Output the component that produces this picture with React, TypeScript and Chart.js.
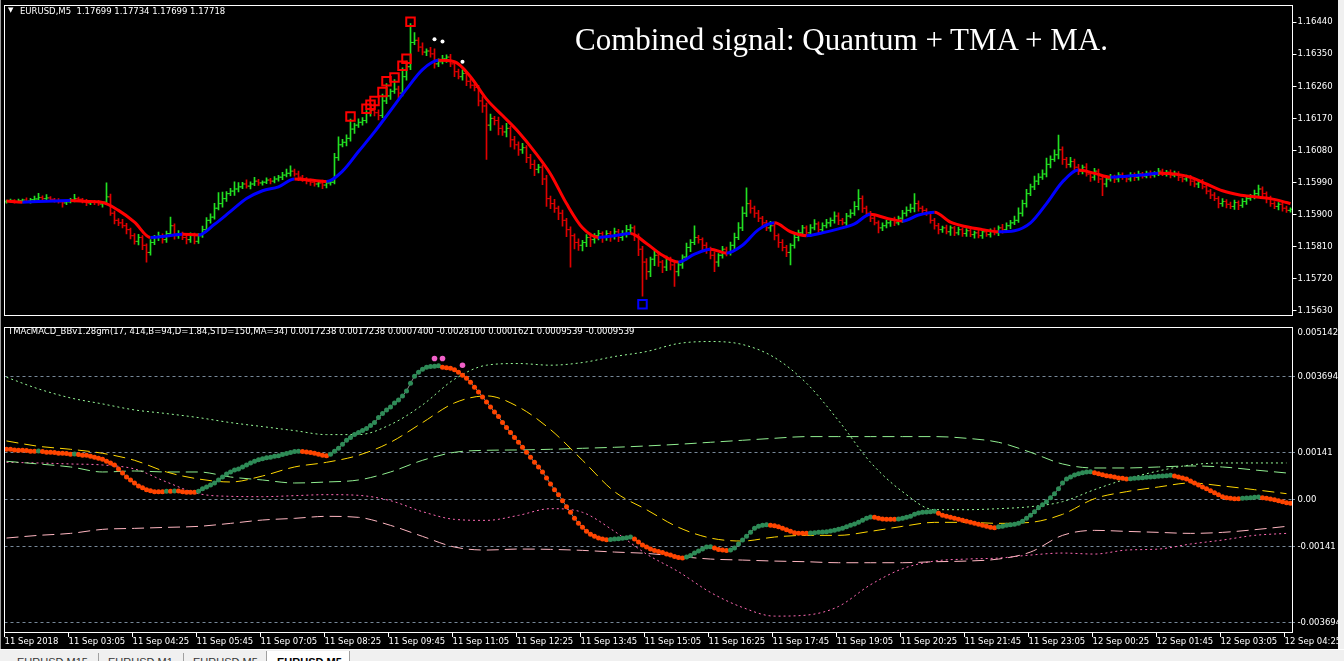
import React, { useEffect, useRef } from 'react';
import { Chart, registerables } from 'chart.js';

Chart.register(...registerables);

// ---------------- DATA ----------------
// EURUSD M5 closes, one per bar (bar 0 = 11 Sep 01:45)
const firstOpen = 1.15936;
const closes = [
  1.15938,1.15940,1.15937,1.15939,1.15941,1.15938,1.15942,1.15944,1.15948,1.15945,1.15947,1.15943,1.15940,1.15936,1.15933,1.15936,1.15940,1.15945,1.15943,1.15938,
  1.15933,1.15936,1.15934,1.15930,1.15935,1.15950,1.15904,1.15884,1.15877,1.15869,1.15858,1.15841,1.15825,1.15836,1.15814,1.15794,1.15822,1.15836,1.15841,1.15830,
  1.15847,1.15869,1.15841,1.15847,1.15836,1.15830,1.15844,1.15825,1.15841,1.15858,1.15884,1.15893,1.15918,1.15931,1.15945,1.15959,1.15966,1.15972,1.15978,1.15986,
  1.15980,1.15986,1.15994,1.15989,1.15991,1.15997,1.15994,1.16000,1.16005,1.16011,1.16016,1.16022,1.16014,1.16005,1.16000,1.15994,1.15991,1.15986,1.15989,1.15983,
  1.15989,1.15991,1.16060,1.16096,1.16103,1.16114,1.16140,1.16151,1.16159,1.16164,1.16186,1.16192,1.16186,1.16178,1.16219,1.16233,1.16246,1.16252,1.16241,1.16287,
  1.16315,1.16383,1.16389,1.16370,1.16356,1.16359,1.16351,1.16323,1.16329,1.16337,1.16342,1.16323,1.16301,1.16287,1.16296,1.16274,1.16263,1.16257,1.16219,1.16205,
  1.16151,1.16170,1.16164,1.16142,1.16132,1.16142,1.16110,1.16096,1.16082,1.16088,1.16060,1.16041,1.16027,1.16033,1.16000,1.15945,1.15931,1.15918,1.15904,1.15884,
  1.15858,1.15841,1.15822,1.15814,1.15822,1.15836,1.15830,1.15841,1.15847,1.15836,1.15847,1.15841,1.15852,1.15836,1.15847,1.15858,1.15863,1.15841,1.15803,1.15767,
  1.15740,1.15775,1.15786,1.15767,1.15753,1.15775,1.15759,1.15740,1.15759,1.15781,1.15808,1.15822,1.15836,1.15830,1.15814,1.15803,1.15786,1.15767,1.15786,1.15803,
  1.15794,1.15814,1.15836,1.15863,1.15904,1.15931,1.15918,1.15904,1.15890,1.15877,1.15863,1.15869,1.15841,1.15822,1.15808,1.15794,1.15814,1.15836,1.15849,1.15863,
  1.15849,1.15863,1.15874,1.15858,1.15869,1.15877,1.15884,1.15896,1.15884,1.15877,1.15896,1.15904,1.15923,1.15945,1.15918,1.15904,1.15890,1.15877,1.15863,1.15869,
  1.15877,1.15884,1.15877,1.15890,1.15904,1.15912,1.15918,1.15931,1.15918,1.15912,1.15904,1.15884,1.15869,1.15858,1.15863,1.15852,1.15863,1.15849,1.15858,1.15847,
  1.15855,1.15844,1.15849,1.15841,1.15852,1.15844,1.15855,1.15849,1.15863,1.15858,1.15869,1.15877,1.15884,1.15904,1.15931,1.15959,1.15978,1.15994,1.16005,1.16014,
  1.16041,1.16055,1.16068,1.16082,1.16055,1.16041,1.16049,1.16033,1.16022,1.16033,1.16014,1.16005,1.16022,1.16000,1.15986,1.16000,1.16005,1.16000,1.16011,1.16005,
  1.16000,1.16011,1.16005,1.16014,1.16008,1.16016,1.16011,1.16016,1.16022,1.16014,1.16019,1.16011,1.16016,1.16005,1.16000,1.16005,1.15994,1.15986,1.15991,1.15978,
  1.15966,1.15955,1.15945,1.15931,1.15937,1.15929,1.15923,1.15934,1.15926,1.15937,1.15945,1.15950,1.15959,1.15972,1.15959,1.15945,1.15931,1.15923,1.15929,1.15918,1.15912,1.15915,
];
// upper wick above the body, in points (0.00001)
const hiPts = [
  3,4,2,5,3,6,4,8,12,5,9,4,3,5,2,4,6,12,4,3,
  5,3,4,6,2,39,8,6,5,10,7,4,6,9,5,4,8,6,10,5,
  7,24,5,8,4,6,5,4,6,10,8,9,14,31,18,6,8,20,12,5,
  12,6,11,5,4,6,5,7,5,8,12,15,6,8,5,4,6,5,6,8,
  6,5,12,22,8,10,28,6,10,8,6,10,21,8,19,35,6,27,9,25,
  16,53,22,8,12,6,10,14,8,10,6,8,5,7,10,6,8,4,6,12,
  8,12,6,10,8,14,6,10,8,12,6,9,12,8,6,10,7,12,6,9,
  6,8,5,10,6,8,12,6,9,5,8,6,10,7,8,12,9,6,5,8,
  10,6,12,7,5,9,6,8,10,6,12,8,33,6,5,8,6,10,5,8,
  6,9,12,15,18,44,10,6,8,5,7,12,6,5,8,6,5,10,8,7,
  6,9,12,6,8,10,7,12,9,6,8,10,14,25,8,6,5,7,6,8,
  7,5,9,6,8,10,12,28,8,6,5,4,6,7,5,8,6,4,7,5,
  6,4,5,7,4,6,5,8,6,10,8,7,12,15,10,12,8,14,10,12,
  18,10,14,41,8,6,12,7,8,6,10,5,8,6,7,5,8,6,7,6,
  5,7,6,8,5,6,7,5,8,6,5,7,6,5,8,6,5,7,6,8,
  6,5,7,6,8,5,6,7,5,8,9,7,10,11,6,5,7,6,5,8,6,4,
];
// lower wick below the body, in points
const loPts = [
  4,3,5,2,4,3,6,3,4,5,3,6,5,4,12,5,3,4,6,5,
  8,5,6,4,9,5,6,10,8,6,12,9,8,10,12,27,8,6,9,10,
  8,6,10,8,6,12,8,7,6,5,4,8,6,5,10,8,6,12,8,5,
  6,8,5,7,6,4,8,5,6,7,5,8,6,10,7,8,9,6,8,10,
  8,6,5,8,6,10,8,12,6,8,7,10,9,12,6,8,10,6,14,8,
  10,8,6,12,8,10,9,12,8,6,10,8,14,6,10,12,8,10,14,18,
  96,15,12,18,10,14,20,12,16,10,14,12,18,10,16,22,14,12,18,16,
  20,88,18,14,16,12,20,10,12,14,8,16,10,12,8,10,12,14,18,96,
  22,14,18,12,16,10,14,41,12,10,8,12,6,10,14,12,10,27,12,8,
  10,8,12,6,8,10,14,12,10,12,8,10,12,14,10,12,35,8,10,6,
  8,10,6,12,8,6,10,8,12,6,8,5,6,10,12,8,10,6,14,8,
  6,10,8,6,12,8,6,10,8,12,6,8,10,12,8,6,10,8,6,8,
  8,6,10,6,8,5,7,6,8,10,6,8,5,6,8,10,6,8,10,6,
  8,10,6,12,14,10,8,12,10,8,6,12,8,10,33,8,6,10,8,6,
  8,6,10,8,6,5,8,6,7,5,6,8,5,10,8,6,12,8,10,6,
  8,10,6,12,8,10,6,8,12,6,8,5,6,8,10,12,8,6,10,8,6,5,
];
// TMA / MA line (red falling, blue rising)
const maBars = [0,4,8,12,16,20,24,28,32,36,40,44,48,52,56,60,64,68,72,76,80,84,88,92,96,100,104,108,112,116,120,124,128,132,136,140,144,148,152,156,160,164,168,172,176,180,184,188,192,196,200,204,208,212,216,220,224,228,232,236,240,244,248,252,256,260,264,268,272,276,280,284,288,292,296,300,304,308,312,316,320,321];
const maValues = [
  1.15938,1.15935,1.15937,1.15938,1.15940,1.15937,1.15934,1.15912,1.15879,1.15836,1.15840,1.15845,1.15843,1.15873,1.15909,1.15945,1.15967,1.15978,1.16000,1.15997,
  1.15993,1.16022,1.16077,1.16132,1.16192,1.16252,1.16307,1.16333,1.16329,1.16287,1.16224,1.16178,1.16132,1.16077,1.16014,1.15931,1.15863,1.15836,1.15841,1.15847,
  1.15819,1.15786,1.15767,1.15789,1.15803,1.15792,1.15814,1.15858,1.15877,1.15852,1.15841,1.15849,1.15860,1.15874,1.15901,1.15890,1.15882,1.15899,1.15907,1.15879,
  1.15866,1.15858,1.15852,1.15855,1.15877,1.15931,1.15992,1.16025,1.16016,1.16005,1.16008,1.16011,1.16016,1.16014,1.16005,1.15986,1.15967,1.15956,1.15950,1.15945,
  1.15934,1.15931,
];
// Quantum sell squares, buy square, white dots
const sellBars = [86,90,91,92,94,95,97,99,100,101];
const sellPrices = [1.16175,1.16197,1.16208,1.16219,1.16244,1.16274,1.16285,1.16318,1.16337,1.16441];
const buyBars = [159];
const buyPrices = [1.15649];
const dotBars = [107,109,114];
const dotPrices = [1.16392,1.16386,1.16329];

// TMAcMACD main line, one per bar
const macd = [
  0.00151,0.00151,0.00149,0.00148,0.00148,0.00147,0.00145,0.00145,0.00146,0.00144,0.00142,0.00142,0.00141,0.00139,0.00139,0.00138,0.00136,0.00137,0.00135,0.00133,
  0.00133,0.00130,0.00127,0.00124,0.00121,0.00115,0.00110,0.00104,0.00092,0.00080,0.00068,0.00059,0.00050,0.00041,0.00036,0.00030,0.00027,0.00024,0.00024,0.00024,
  0.00025,0.00025,0.00026,0.00026,0.00024,0.00022,0.00022,0.00022,0.00025,0.00033,0.00038,0.00044,0.00050,0.00059,0.00068,0.00077,0.00083,0.00089,0.00092,0.00098,
  0.00104,0.00110,0.00115,0.00120,0.00123,0.00126,0.00127,0.00130,0.00132,0.00135,0.00138,0.00141,0.00144,0.00145,0.00144,0.00143,0.00141,0.00139,0.00136,0.00133,
  0.00132,0.00136,0.00145,0.00154,0.00166,0.00178,0.00186,0.00195,0.00201,0.00207,0.00213,0.00222,0.00231,0.00246,0.00258,0.00269,0.00278,0.00290,0.00299,0.00311,
  0.00326,0.00349,0.00370,0.00382,0.00391,0.00397,0.00399,0.00400,0.00401,0.00397,0.00395,0.00394,0.00389,0.00382,0.00373,0.00364,0.00352,0.00337,0.00323,0.00308,
  0.00293,0.00278,0.00263,0.00249,0.00231,0.00216,0.00201,0.00186,0.00172,0.00157,0.00142,0.00127,0.00112,0.00098,0.00083,0.00065,0.00047,0.00030,0.00015,-0.00003,
  -0.00021,-0.00038,-0.00056,-0.00071,-0.00083,-0.00095,-0.00104,-0.00110,-0.00115,-0.00118,-0.00120,-0.00119,-0.00118,-0.00117,-0.00116,-0.00114,-0.00112,-0.00118,-0.00127,-0.00136,
  -0.00142,-0.00148,-0.00152,-0.00155,-0.00158,-0.00163,-0.00166,-0.00170,-0.00173,-0.00175,-0.00172,-0.00167,-0.00160,-0.00154,-0.00148,-0.00142,-0.00141,-0.00145,-0.00149,-0.00151,
  -0.00152,-0.00151,-0.00145,-0.00133,-0.00121,-0.00110,-0.00098,-0.00086,-0.00080,-0.00077,-0.00075,-0.00077,-0.00078,-0.00081,-0.00086,-0.00090,-0.00095,-0.00099,-0.00101,-0.00101,
  -0.00101,-0.00100,-0.00099,-0.00098,-0.00097,-0.00096,-0.00094,-0.00092,-0.00089,-0.00086,-0.00081,-0.00077,-0.00073,-0.00068,-0.00062,-0.00056,-0.00052,-0.00053,-0.00056,-0.00058,
  -0.00059,-0.00059,-0.00059,-0.00058,-0.00056,-0.00053,-0.00050,-0.00044,-0.00040,-0.00038,-0.00037,-0.00036,-0.00035,-0.00041,-0.00047,-0.00050,-0.00053,-0.00056,-0.00059,-0.00062,
  -0.00065,-0.00068,-0.00071,-0.00074,-0.00077,-0.00080,-0.00083,-0.00084,-0.00081,-0.00080,-0.00077,-0.00075,-0.00074,-0.00071,-0.00065,-0.00056,-0.00047,-0.00036,-0.00024,-0.00015,
  -0.00006,0.00006,0.00018,0.00033,0.00050,0.00062,0.00068,0.00074,0.00078,0.00081,0.00083,0.00084,0.00081,0.00078,0.00075,0.00072,0.00070,0.00068,0.00065,0.00064,
  0.00062,0.00063,0.00064,0.00065,0.00066,0.00067,0.00068,0.00069,0.00070,0.00071,0.00072,0.00073,0.00071,0.00068,0.00065,0.00062,0.00056,0.00050,0.00044,0.00038,
  0.00033,0.00027,0.00021,0.00015,0.00009,0.00006,0.00004,0.00003,0.00003,0.00004,0.00005,0.00006,0.00007,0.00008,0.00006,0.00004,0.00002,0.00000,-0.00003,-0.00006,-0.00009,-0.00011,
];
// indicator lines sampled every 8 bars
const lineBars = [0,8,16,24,32,40,48,56,64,72,80,88,96,104,112,120,128,136,144,152,160,168,176,184,192,200,208,216,224,232,240,248,256,264,272,280,288,296,304,312,320];
const signalLine = [0.00176,0.00160,0.00151,0.00139,0.00118,0.00083,0.00062,0.00053,0.00071,0.00098,0.00112,0.00133,0.00172,0.00231,0.00290,0.00311,0.00278,0.00210,0.00118,0.00024,-0.00030,-0.00083,-0.00115,-0.00124,-0.00112,-0.00107,-0.00107,-0.00095,-0.00080,-0.00068,-0.00068,-0.00071,-0.00068,-0.00044,0.00003,0.00024,0.00038,0.00050,0.00041,0.00030,0.00018];
const midUpper = [0.00115,0.00107,0.00098,0.00083,0.00086,0.00083,0.00083,0.00068,0.00059,0.00050,0.00053,0.00059,0.00083,0.00118,0.00142,0.00148,0.00149,0.00151,0.00154,0.00157,0.00161,0.00166,0.00172,0.00178,0.00184,0.00189,0.00189,0.00189,0.00189,0.00189,0.00184,0.00172,0.00142,0.00107,0.00095,0.00095,0.00098,0.00101,0.00098,0.00089,0.00080];
const bandUpper = [0.00367,0.00332,0.00305,0.00287,0.00269,0.00258,0.00246,0.00231,0.00219,0.00207,0.00195,0.00195,0.00225,0.00284,0.00361,0.00403,0.00408,0.00403,0.00411,0.00429,0.00444,0.00468,0.00474,0.00465,0.00426,0.00349,0.00237,0.00112,0.00024,-0.00030,-0.00030,-0.00027,-0.00021,-0.00006,0.00030,0.00062,0.00086,0.00104,0.00110,0.00110,0.00110];
const bandLower = [0.00112,0.00110,0.00107,0.00104,0.00092,0.00053,0.00018,0.00010,0.00009,0.00012,0.00015,0.00013,-0.00003,-0.00036,-0.00059,-0.00062,-0.00047,-0.00027,-0.00038,-0.00095,-0.00163,-0.00216,-0.00278,-0.00323,-0.00349,-0.00346,-0.00320,-0.00255,-0.00207,-0.00184,-0.00178,-0.00175,-0.00166,-0.00160,-0.00163,-0.00151,-0.00148,-0.00133,-0.00121,-0.00107,-0.00101];
const midLower = [-0.00115,-0.00107,-0.00101,-0.00089,-0.00086,-0.00083,-0.00080,-0.00071,-0.00061,-0.00056,-0.00050,-0.00053,-0.00077,-0.00110,-0.00142,-0.00151,-0.00148,-0.00149,-0.00152,-0.00157,-0.00161,-0.00170,-0.00178,-0.00181,-0.00184,-0.00186,-0.00189,-0.00189,-0.00189,-0.00186,-0.00184,-0.00178,-0.00157,-0.00107,-0.00092,-0.00095,-0.00098,-0.00101,-0.00098,-0.00090,-0.00080];
const alertBars = [107,109,114];
const alertValues = [0.00423,0.00423,0.00403];

// axes
const priceTicks = [1.15630,1.15720,1.15810,1.15900,1.15990,1.16080,1.16170,1.16260,1.16350,1.16440];
const levelTicks = [0.005142,0.0036942,0.00141,0,-0.00141,-0.0036942];
const levelLabels = ['0.005142','0.0036942','0.00141','0.00','-0.00141','-0.003694'];
const timeTickBars = [0,16,32,48,64,80,96,112,128,144,160,176,192,208,224,240,256,272,288,304,320];
const timeLabels = ['11 Sep 2018','11 Sep 03:05','11 Sep 04:25','11 Sep 05:45','11 Sep 07:05','11 Sep 08:25','11 Sep 09:45','11 Sep 11:05','11 Sep 12:25','11 Sep 13:45','11 Sep 15:05','11 Sep 16:25','11 Sep 17:45','11 Sep 19:05','11 Sep 20:25','11 Sep 21:45','11 Sep 23:05','12 Sep 00:25','12 Sep 01:45','12 Sep 03:05','12 Sep 04:25'];

// ---------------- STYLE ----------------
const POINT = 0.00001;
const FONT = { family: "'DejaVu Sans', sans-serif", size: 8.5 };
const BULL = '#22e022';
const BEAR = '#e00000';
const X_MIN = -0.5;
const X_MAX = 321.5;
const AXIS_W = 51.5;

const framePlugin = {
  id: 'frame',
  afterDraw(chart: any) {
    const { ctx, chartArea: a } = chart;
    const l = Math.floor(a.left);
    const r = Math.floor(a.right);
    const t = Math.floor(a.top) - 1;
    const b = Math.floor(a.bottom);
    ctx.save();
    ctx.fillStyle = '#ffffff';
    ctx.fillRect(l, t, r - l + 1, 1);
    ctx.fillRect(l, b, r - l + 1, 1);
    ctx.fillRect(l, t, 1, b - t + 1);
    ctx.fillRect(r, t, 1, b - t + 1);
    ctx.restore();
  },
};

function buildTop(canvas: HTMLCanvasElement) {
  const opens = closes.map((c, i) => (i === 0 ? firstOpen : closes[i - 1]));
  const highs = closes.map((c, i) => Math.max(opens[i], c) + hiPts[i] * POINT);
  const lows = closes.map((c, i) => Math.min(opens[i], c) - loPts[i] * POINT);
  const barColors = closes.map((c, i) => (c >= opens[i] ? BULL : BEAR));

  return new Chart(canvas, {
    type: 'bar',
    data: {
      datasets: [
        {
          type: 'scatter',
          data: dotBars.map((b, k) => ({ x: b, y: dotPrices[k] })),
          pointStyle: 'circle',
          pointRadius: 2,
          pointBackgroundColor: '#ffffff',
          pointBorderWidth: 0,
          order: 0,
        } as any,
        {
          type: 'scatter',
          data: sellBars.map((b, k) => ({ x: b, y: sellPrices[k] })),
          pointStyle: 'rect',
          pointRadius: 6,
          pointBackgroundColor: 'rgba(0,0,0,0)',
          pointBorderColor: '#ff0000',
          pointBorderWidth: 2,
          order: 1,
        },
        {
          type: 'scatter',
          data: buyBars.map((b, k) => ({ x: b, y: buyPrices[k] })),
          pointStyle: 'rect',
          pointRadius: 6,
          pointBackgroundColor: 'rgba(0,0,0,0)',
          pointBorderColor: '#0000ff',
          pointBorderWidth: 2,
          order: 1,
        },
        {
          type: 'line',
          data: maBars.map((b, k) => ({ x: b, y: maValues[k] })),
          borderColor: '#0000ff',
          borderWidth: 3,
          pointRadius: 0,
          cubicInterpolationMode: 'monotone',
          segment: {
            borderColor: (ctx: any) => (ctx.p1.parsed.y < ctx.p0.parsed.y ? '#ff0000' : '#0000ff'),
          },
          order: 2,
        },
        {
          type: 'scatter',
          data: opens.map((o, i) => ({ x: i - 0.3, y: o })),
          pointStyle: 'line',
          pointRadius: 1.2,
          pointBorderColor: barColors,
          pointBorderWidth: 1,
          order: 3,
        },
        {
          type: 'scatter',
          data: closes.map((c, i) => ({ x: i + 0.3, y: c })),
          pointStyle: 'line',
          pointRadius: 1.2,
          pointBorderColor: barColors,
          pointBorderWidth: 1,
          order: 3,
        },
        {
          type: 'bar',
          data: closes.map((c, i) => ({ x: i, y: [lows[i], highs[i]] })),
          backgroundColor: barColors,
          borderWidth: 0,
          barThickness: 1,
          grouped: false,
          order: 4,
        },
      ] as any,
    },
    options: {
      responsive: false,
      animation: false,
      devicePixelRatio: 1,
      events: [],
      layout: { autoPadding: false, padding: { left: 4.5, top: 3, bottom: 2, right: 0 } },
      plugins: { legend: { display: false }, tooltip: { enabled: false } },
      scales: {
        x: { type: 'linear', display: false, min: X_MIN, max: X_MAX, offset: false },
        y: {
          type: 'linear',
          position: 'right',
          min: 1.15616,
          max: 1.16485,
          afterFit: (s: any) => { s.width = AXIS_W; },
          afterBuildTicks: (s: any) => { s.ticks = priceTicks.map((v) => ({ value: v })); },
          ticks: {
            color: '#ffffff',
            font: FONT,
            padding: 1,
            callback: (v: any) => Number(v).toFixed(5),
          },
          grid: { drawOnChartArea: false, drawTicks: true, tickLength: 4, tickColor: '#ffffff' },
          border: { display: false },
        },
      },
    } as any,
    plugins: [framePlugin],
  });
}

function buildBottom(canvas: HTMLCanvasElement) {
  const dotColors = macd.map((v, i) => (i > 0 && v > macd[i - 1] ? '#2e8b57' : '#ff4500'));
  const sparse = (vals: number[]) => lineBars.map((b, k) => ({ x: b, y: vals[k] }));
  const common = { pointRadius: 0, borderWidth: 1, cubicInterpolationMode: 'monotone' };
  return new Chart(canvas, {
    type: 'line',
    data: {
      datasets: [
        {
          type: 'scatter',
          data: alertBars.map((b, k) => ({ x: b, y: alertValues[k] })),
          pointRadius: 2.8,
          pointBackgroundColor: '#f060c8',
          pointBorderWidth: 0,
          order: 0,
        },
        {
          data: macd.map((v, i) => ({ x: i, y: v })),
          borderColor: '#8a8a8a',
          borderWidth: 1,
          pointStyle: 'circle',
          pointRadius: 2.5,
          pointBorderWidth: 0,
          pointBackgroundColor: dotColors,
          order: 1,
        },
        { ...common, data: sparse(signalLine), borderColor: '#ffd700', borderDash: [12, 6], order: 2 },
        { ...common, data: sparse(midUpper), borderColor: '#90ee90', borderDash: [12, 6], order: 3 },
        { ...common, data: sparse(midLower), borderColor: '#ffb6c1', borderDash: [12, 6], order: 4 },
        { ...common, data: sparse(bandUpper), borderColor: '#98fb98', borderDash: [2, 3], order: 5 },
        { ...common, data: sparse(bandLower), borderColor: '#ff69b4', borderDash: [2, 3], order: 6 },
      ] as any,
    },
    options: {
      responsive: false,
      animation: false,
      devicePixelRatio: 1,
      events: [],
      layout: { autoPadding: false, padding: { left: 4.5, top: 2, bottom: 0, right: 0 } },
      plugins: { legend: { display: false }, tooltip: { enabled: false } },
      scales: {
        x: {
          type: 'linear',
          min: X_MIN,
          max: X_MAX,
          offset: false,
          afterFit: (s: any) => { s.height = 18; },
          afterBuildTicks: (s: any) => { s.ticks = timeTickBars.map((b) => ({ value: b - 0.5 })); },
          ticks: {
            color: '#ffffff',
            font: FONT,
            align: 'start',
            padding: 0,
            maxRotation: 0,
            minRotation: 0,
            autoSkip: false,
            callback: (_v: any, i: number) => timeLabels[i],
          },
          grid: { drawOnChartArea: false, drawTicks: true, tickLength: 5, tickColor: '#ffffff' },
          border: { display: false },
        },
        y: {
          type: 'linear',
          position: 'right',
          min: -0.003966,
          max: 0.005142,
          afterFit: (s: any) => { s.width = AXIS_W; },
          afterBuildTicks: (s: any) => { s.ticks = levelTicks.map((v) => ({ value: v })); },
          ticks: {
            color: '#ffffff',
            font: FONT,
            padding: 1,
            callback: (_v: any, i: number) => (i === 0 ? ['', levelLabels[i]] : levelLabels[i]),
          },
          grid: {
            drawOnChartArea: true,
            drawTicks: true,
            tickLength: 4,
            color: (ctx: any) => (ctx.index === 0 ? 'rgba(0,0,0,0)' : '#778899'),
            tickColor: (ctx: any) => (ctx.index === 0 ? 'rgba(0,0,0,0)' : '#778899'),
            tickBorderDash: [2, 2],
          },
          border: { display: false, dash: [3, 3] },
        },
      },
    } as any,
    plugins: [framePlugin],
  });
}

const smallText: React.CSSProperties = {
  position: 'absolute',
  fontFamily: "'DejaVu Sans', sans-serif",
  fontSize: '8.5px',
  lineHeight: '11px',
  color: '#ffffff',
  whiteSpace: 'pre',
};

const tabText: React.CSSProperties = {
  position: 'absolute',
  top: 6,
  fontFamily: "'Liberation Sans', Arial, sans-serif",
  fontSize: '11px',
  lineHeight: '13px',
  color: '#333',
  whiteSpace: 'pre',
};

export default function App() {
  const topRef = useRef<HTMLCanvasElement>(null);
  const botRef = useRef<HTMLCanvasElement>(null);

  useEffect(() => {
    document.body.style.margin = '0';
    document.body.style.background = '#000';
    const c1 = buildTop(topRef.current as HTMLCanvasElement);
    const c2 = buildBottom(botRef.current as HTMLCanvasElement);
    return () => {
      c1.destroy();
      c2.destroy();
    };
  }, []);

  return (
    <div style={{ position: 'fixed', left: 0, top: 0, width: 1344, height: 661, background: '#000', overflow: 'hidden' }}>
      <canvas ref={topRef} width={1344} height={322} style={{ position: 'absolute', left: 0, top: 0, width: 1344, height: 322 }} />
      <canvas ref={botRef} width={1344} height={328} style={{ position: 'absolute', left: 0, top: 322, width: 1344, height: 328 }} />

      <div style={{ ...smallText, left: 8, top: 5, fontSize: '7px' }}>▼</div>
      <div style={{ ...smallText, left: 20, top: 6 }}>EURUSD,M5  1.17699 1.17734 1.17699 1.17718</div>
      <div style={{ ...smallText, left: 8, top: 326 }}>
        TMAcMACD_BBv1.28gm(17, 414,B=94,D=1.84,STD=150,MA=34) 0.0017238 0.0017238 0.0007400 -0.0028100 0.0001621 0.0009539 -0.0009539
      </div>
      <div
        style={{
          position: 'absolute',
          left: 575,
          top: 24,
          fontFamily: "'Liberation Serif', 'Times New Roman', serif",
          fontSize: '31px',
          lineHeight: '31px',
          color: '#ffffff',
          whiteSpace: 'pre',
        }}
      >
        Combined signal: Quantum + TMA + MA.
      </div>

      <div style={{ position: 'absolute', left: 0, top: 0, width: 1, height: 649, background: '#9a9a9a' }} />
      <div style={{ position: 'absolute', left: 1338, top: 0, width: 6, height: 649, background: '#f0f0f0' }} />

      <div style={{ position: 'absolute', left: 0, top: 649, width: 1344, height: 12, background: '#f0f0f0', borderTop: '1px solid #ffffff', overflow: 'hidden' }}>
        <div style={{ position: 'absolute', left: 98, top: 3, width: 1, height: 12, background: '#a0a0a0' }} />
        <div style={{ position: 'absolute', left: 183, top: 3, width: 1, height: 12, background: '#a0a0a0' }} />
        <div style={{ position: 'absolute', left: 266, top: 1, width: 82, height: 14, background: '#ffffff', borderLeft: '1px solid #a0a0a0', borderRight: '1px solid #a0a0a0' }} />
        <div style={{ ...tabText, left: 17 }}>EURUSD,M15</div>
        <div style={{ ...tabText, left: 108 }}>EURUSD,M1</div>
        <div style={{ ...tabText, left: 193 }}>EURUSD,M5</div>
        <div style={{ ...tabText, left: 277, color: '#000', fontWeight: 'bold' }}>EURUSD,M5</div>
      </div>
    </div>
  );
}
